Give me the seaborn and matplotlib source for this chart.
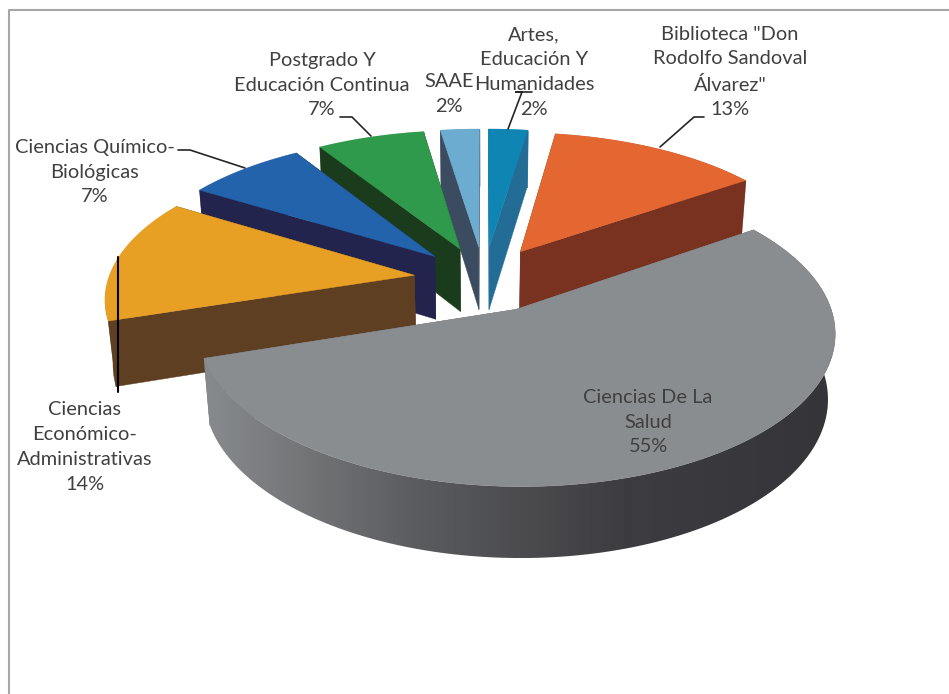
import numpy as np
import matplotlib
matplotlib.use('Agg')
import matplotlib.pyplot as plt
from matplotlib.collections import PolyCollection
from matplotlib.patches import Polygon
import seaborn as sns

# clockwise from 12 o'clock, same order as the chart
categorias = ['Artes,\nEducación Y\nHumanidades', 'Biblioteca "Don\nRodolfo Sandoval\nÁlvarez"',
              'Ciencias De La\nSalud', 'Ciencias\nEconómico-\nAdministrativas',
              'Ciencias Químico-\nBiológicas', 'Postgrado Y\nEducación Continua', 'SAAE']
valores = [2.4, 13.0, 54.6, 13.7, 7.3, 6.6, 2.4]
cores_topo = ['#0F85B3', '#E46731', '#8A8D8F', '#E8A024', '#2263AC', '#2F9A4B', '#6DACD1']
cores_lado = ['#236C96', '#78321F', '#6A6C6E', '#5F3F21', '#22244D', '#1B3C1C', '#3C4C60']

# centre of each label, in pixels
pos_rotulos = [(534, 72), (730, 72), (648, 422), (85, 447), (95, 172), (322, 85), (449, 94)]

# leader lines, in pixels
linhas_guia = [[(508, 129), (522, 92), (515, 92), (532, 92)],
               [(660, 147), (694, 117), (704, 117)],
               [(245, 168), (190, 150), (178, 150)],
               [(371, 136), (352, 117), (340, 117)]]

# perspective of the 3D pie
CX, CY = 484, 279
RX, RY = 306, 143
PROF = 65        # pie thickness
K = 0.14         # shrink towards the back
KZ = 0.02        # shrink towards the bottom
EXPLODE = 0.23


def projeta(x, y, z=0.0):
    w = 1 + K * y + KZ * z
    return np.column_stack([CX + RX * x / w, CY + (-RY * y + PROF * z) / w])


def desenha_fatia(ax, ini, fim, cor_topo, cor_lado, gradiente=None):
    meio = (ini + fim) / 2
    ox, oy = EXPLODE * np.sin(meio), EXPLODE * np.cos(meio)
    t = np.linspace(ini, fim, 240)
    xa, ya = ox + np.sin(t), oy + np.cos(t)

    topo_arco = projeta(xa, ya)
    base_arco = projeta(xa, ya, 1.0)
    ponta_topo = projeta(np.array([ox]), np.array([oy]))
    ponta_base = projeta(np.array([ox]), np.array([oy]), 1.0)

    # the two cut faces
    for i in (0, -1):
        quad = np.vstack([ponta_topo, topo_arco[i], base_arco[i], ponta_base])
        ax.add_patch(Polygon(quad, closed=True, fc=cor_lado, ec=cor_lado, lw=0.3))

    # outer wall
    parede = np.vstack([topo_arco, base_arco[::-1]])
    if gradiente is None:
        ax.add_collection(PolyCollection([parede], facecolors=cor_lado, edgecolors=cor_lado, linewidths=0.3))
    else:
        # shaded wall of the big slice: a left-right ramp clipped to the wall
        x0, x1 = parede[:, 0].min(), parede[:, 0].max()
        y0, y1 = parede[:, 1].min(), parede[:, 1].max()
        im = ax.imshow(np.linspace(0, 1, 256)[None, :], cmap=gradiente, extent=[x0, x1, y1, y0],
                       aspect='auto', zorder=2)
        im.set_clip_path(Polygon(parede, closed=True, transform=ax.transData))
        ax.set_xlim(0, 949)
        ax.set_ylim(694, 0)

    ordem = 2.5 if gradiente is not None else 1
    ax.add_patch(Polygon(np.vstack([ponta_topo, topo_arco]), closed=True, fc=cor_topo, ec=cor_topo,
                         lw=0.3, zorder=ordem))


sns.set_style('white')
plt.rcParams['font.family'] = ['Lato', 'DejaVu Sans']

fig = plt.figure(figsize=(9.49, 6.94), dpi=100)
ax = fig.add_axes([0, 0, 1, 1])
ax.set_xlim(0, 949)
ax.set_ylim(694, 0)
ax.axis('off')

# chart frame
ax.plot([9, 9, 949], [694, 10, 10], color='#A6A6A6', lw=1.5, solid_capstyle='butt')

angulos = np.radians(np.cumsum([0] + valores) / sum(valores) * 360)
grad = sns.blend_palette(['#888B8D', '#5B5C5F', '#3D3C40', '#353439'], as_cmap=True)

# back slices first, the big grey one last
for i in [6, 0, 5, 4, 1, 3, 2]:
    desenha_fatia(ax, angulos[i], angulos[i + 1], cores_topo[i], cores_lado[i],
                  gradiente=grad if i == 2 else None)

for pts in linhas_guia:
    ax.plot(*zip(*pts), color='#262626', lw=1.2, solid_joinstyle='miter')
ax.plot([118, 118], [257, 392], color='black', lw=1.5)

for cat, val, (x, y) in zip(categorias, valores, pos_rotulos):
    ax.text(x, y, f'{cat}\n{val:.0f}%', ha='center', va='center', fontsize=14.4,
            color='#404040', linespacing=1.55)

fig.savefig('out.png', dpi=100)
